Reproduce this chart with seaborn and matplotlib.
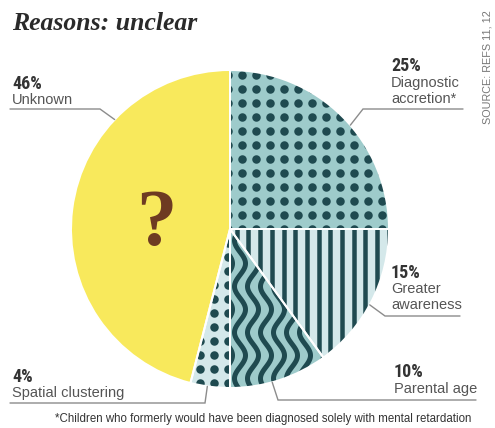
import numpy as np
import matplotlib
matplotlib.use("Agg")
import matplotlib.pyplot as plt
from matplotlib.collections import LineCollection
import seaborn as sns

# ---------------- data ----------------
categories = ["Diagnostic accretion*", "Greater awareness", "Parental age",
              "Spatial clustering", "Unknown"]
name_lines = [["Diagnostic", "accretion*"], ["Greater", "awareness"], ["Parental age"],
              ["Spatial clustering"], ["Unknown"]]
shares = [25, 15, 10, 4, 46]
title = "Reasons: unclear"
footnote = "*Children who formerly would have been diagnosed solely with mental retardation"
source = "SOURCE: REFS 11, 12"

# ---------------- style ----------------
sns.set_theme(style="white")
plt.rcParams["font.family"] = ["Liberation Sans", "DejaVu Sans"]

bg_colors = ["#9ecbcb", "#d4e8ea", "#9ecbcb", "#d4e8ea", "#f8e95c"]
patterns = ["dots", "stripes", "waves", "dots", None]
dark = "#1f4a50"
line_gray = "#8c8c8c"
narrow_family = ["Liberation Sans Narrow", "Roboto Condensed", "Open Sans Condensed",
                 "Liberation Sans", "DejaVu Sans"]

W, H, DPI = 495, 428, 100
CX, CY, R = 230, 229, 159          # pie centre / radius in pixels
PT = 72 / DPI                       # points per pixel

fig = plt.figure(figsize=(W / DPI, H / DPI), dpi=DPI)
ax = fig.add_axes([0, 0, 1, 1])


def P(x, y):
    """pixel (from top-left) -> data coords"""
    return ((x - CX) / R, (CY - y) / R)


px = 1 / R

wedges, _ = ax.pie(shares, colors=bg_colors, startangle=90, counterclock=False,
                   radius=1, center=(0, 0),
                   wedgeprops=dict(edgecolor="none", linewidth=0, zorder=2))

# textures clipped to wedges
for w, pat in zip(wedges, patterns):
    if pat == "dots":
        sp = 14
        xs = (np.arange(-R, R + sp, sp) + 3) * px
        ys = (np.arange(-R, R + sp, sp) + 5) * px
        gx, gy = np.meshgrid(xs, ys)
        sc = ax.scatter(gx.ravel(), gy.ravel(), s=(8.5 * PT) ** 2, c=dark,
                        linewidths=0, zorder=3)
        sc.set_clip_path(w)
    elif pat == "stripes":
        xs = (np.arange(-R, R, 11.7) + 2) * px
        segs = [[(x, -1.1), (x, 1.1)] for x in xs]
        lc = LineCollection(segs, colors=dark, linewidths=4.5 * PT, zorder=3)
        ax.add_collection(lc)
        lc.set_clip_path(w)
    elif pat == "waves":
        yy = np.linspace(-1.1, 1.1, 600)
        segs = []
        for x0 in np.arange(-R, R, 13) * px:
            segs.append(np.column_stack([x0 + 5.5 * px * np.sin(2 * np.pi * yy / (46 * px)), yy]))
        lc = LineCollection(segs, colors=dark, linewidths=5 * PT, zorder=3)
        ax.add_collection(lc)
        lc.set_clip_path(w)

# white separators on top
edges, _ = ax.pie(shares, startangle=90, counterclock=False, radius=1, center=(0, 0),
                  wedgeprops=dict(facecolor="none", edgecolor="white",
                                  linewidth=2 * PT, zorder=4))

# ---------------- labels ----------------
pct_pos = [(391, 71), (391, 278), (394, 377), (12, 382), (12, 89)]
name_pos = [(391, 87), (391, 293), (394, 393), (12, 397), (12, 104)]
anchor_deg = [40.8, -28.5, -74.6, -98.2, 136.5]
leader = [[(463, 109), (363, 109)], [(460, 316), (385, 316)], [(476, 400), (278, 400)],
          [(10, 403), (205, 403)], [(10, 109), (100, 109)]]

for i, v in enumerate(shares):
    x, y = P(*pct_pos[i])
    ax.text(x, y, f"{v}%", fontsize=13, fontweight="bold", color="#333333",
            family=narrow_family, fontstretch="condensed", va="baseline", ha="left")
    nx, ny = name_pos[i]
    for k, ln in enumerate(name_lines[i]):
        tx, ty = P(nx, ny + 16 * k)
        ax.text(tx, ty, ln, fontsize=10.5, color="#555555", va="baseline", ha="left")
    a = np.deg2rad(anchor_deg[i])
    pts = [P(*p) for p in leader[i]] + [(np.cos(a), np.sin(a))]
    ax.plot([p[0] for p in pts], [p[1] for p in pts], color=line_gray, lw=1, zorder=5,
            solid_joinstyle="miter")

# question mark in Unknown slice
qx, qy = P(156, 245)
ax.text(qx, qy, "?", fontsize=58, fontweight="bold", color="#6e3b22",
        family=["Liberation Serif", "DejaVu Serif"], ha="center", va="baseline", zorder=5)

# title, footnote, source
tx, ty = P(12, 30)
ax.text(tx, ty, title, fontsize=18.5, fontweight="bold", fontstyle="italic", color="#2a2a2a",
        family=["Liberation Serif", "DejaVu Serif"], ha="left", va="baseline")
fx, fy = P(55, 422)
ax.text(fx, fy, footnote, fontsize=8.3, color="#333333", ha="left", va="baseline")
sx, sy = P(487, 10)
ax.text(sx, sy, source, fontsize=7.8, color="#777777", rotation=90, ha="center", va="top")

ax.set_xlim(-CX / R, (W - CX) / R)
ax.set_ylim(-(H - CY) / R, CY / R)
ax.set_aspect("equal")
ax.axis("off")

fig.savefig("out.png", dpi=DPI, facecolor="white")
